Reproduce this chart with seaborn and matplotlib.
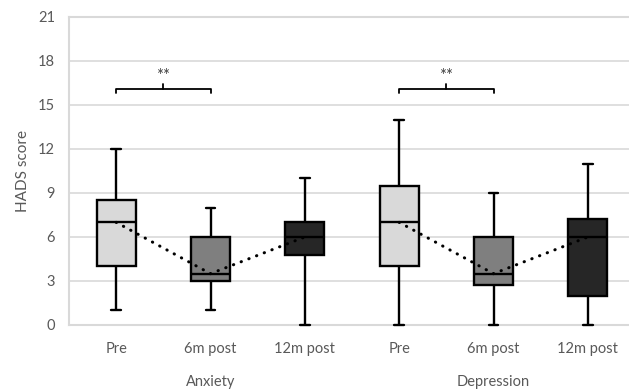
import numpy as np
import pandas as pd
import seaborn as sns
import matplotlib.pyplot as plt

scales = ['Anxiety', 'Anxiety', 'Anxiety', 'Depression', 'Depression', 'Depression']
times = ['Pre', '6m post', '12m post', 'Pre', '6m post', '12m post']
# five-number summaries
lo = [1, 1, 0, 0, 0, 0]
q1 = [4, 3, 4.75, 4, 2.75, 2]
med = [7, 3.5, 6, 7, 3.5, 6]
q3 = [8.5, 6, 7, 9.5, 6, 7.25]
hi = [12, 8, 10, 14, 9, 11]
colors = {'Pre': '#d9d9d9', '6m post': '#7f7f7f', '12m post': '#262626'}
yticks = [0, 3, 6, 9, 12, 15, 18, 21]

rows = []
for i in range(6):
    key = f'{scales[i]} {times[i]}'
    for v in (lo[i], q1[i], med[i], q3[i], hi[i]):
        rows.append({'group': key, 'time': times[i], 'score': v})
df = pd.DataFrame(rows)
order = [f'{s} {t}' for s, t in zip(scales, times)]

sns.set_style('white')
plt.rcParams['font.family'] = ['Lato', 'DejaVu Sans']

fig = plt.figure(figsize=(6.29, 3.90), dpi=100)
ax = fig.add_axes([69/629, 65/390, 566/629, 308/390])

sns.boxplot(data=df, x='group', y='score', hue='time', order=order,
            palette=colors, dodge=False, legend=False, width=0.41,
            whis=np.inf, linewidth=1.7, linecolor='black', ax=ax)

# narrow the whisker caps, keep them visible at the axis edge
for ln in ax.lines:
    ln.set_clip_on(False)
    ln.set_zorder(4)
    xd = np.asarray(ln.get_xdata(), dtype=float)
    yd = np.asarray(ln.get_ydata(), dtype=float)
    if len(xd) == 2 and yd[0] == yd[1] and abs((xd[1] - xd[0]) - 0.205) < 0.01:
        c = xd.mean()
        ln.set_xdata([c - 0.05, c + 0.05])

# dotted median trend per scale
for g in (0, 3):
    ax.plot([g, g + 1, g + 2], med[g:g + 3], linestyle=(0, (0.1, 2.6)),
            color='black', lw=2.2, dash_capstyle='round', zorder=5)

# significance brackets
for g in (0, 3):
    x0, x1 = g, g + 1
    xm = (x0 + x1) / 2
    yb = 16.1
    ax.plot([x0, x0, x1, x1], [15.8, yb, yb, 15.8], color='black', lw=1.3,
            solid_joinstyle='round')
    ax.plot([xm, xm], [yb, 16.4], color='black', lw=1.3)
    ax.text(xm, 16.95, '**', ha='center', va='center', fontsize=12, color='#404040')

ax.set_xlim(-0.5, 5.5)
ax.set_ylim(0, 21)
ax.set_yticks(yticks)
ax.yaxis.grid(True, color='#d9d9d9', lw=1.2)
ax.set_axisbelow(True)
for s in ax.spines.values():
    s.set_color('#d9d9d9')
    s.set_linewidth(1.5)
ax.spines['right'].set_visible(False)

ax.set_xticks(range(6))
ax.set_xticklabels(times)
ax.tick_params(axis='both', colors='#595959', labelsize=10.5, length=0, pad=12)
ax.tick_params(axis='y', pad=10)
ax.set_xlabel('')
ax.set_ylabel('HADS score', color='#595959', fontsize=11, labelpad=6)

ax.text(1, -0.185, 'Anxiety', transform=ax.get_xaxis_transform(),
        ha='center', va='center', fontsize=10.5, color='#595959')
ax.text(4, -0.185, 'Depression', transform=ax.get_xaxis_transform(),
        ha='center', va='center', fontsize=10.5, color='#595959')

fig.savefig('out.png', dpi=100)
